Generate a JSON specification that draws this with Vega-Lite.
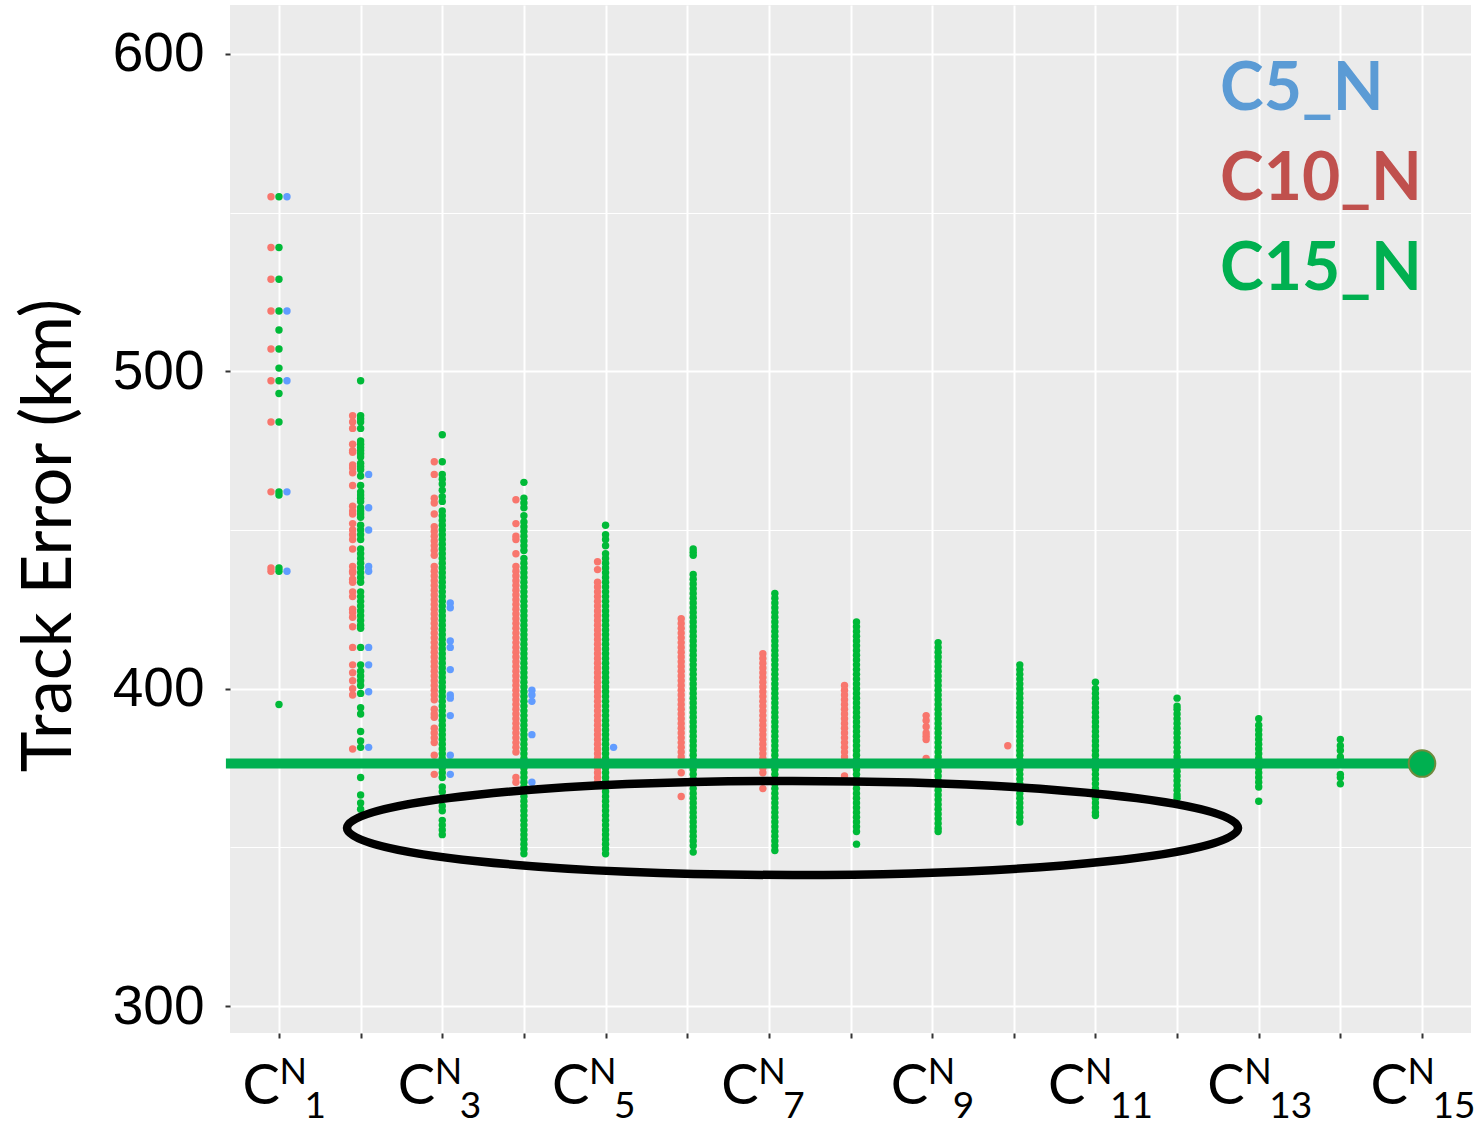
{
  "$schema": "https://vega.github.io/schema/vega-lite/v6.json",
  "width": 1241,
  "height": 1028,
  "autosize": {"type": "none"},
  "padding": {"left": 230, "top": 5, "right": 8, "bottom": 91},
  "background": "white",
  "config": {
    "view": {"fill": "#EBEBEB", "stroke": null},
    "axis": {"domain": false, "labelOverlap": false, "labelFlush": false}
  },
  "datasets": {
    "c10": [
      {"c":1,"v":555},{"c":1,"v":539},{"c":1,"v":529},{"c":1,"v":519},{"c":1,"v":507},{"c":1,"v":497},{"c":1,"v":484},{"c":1,"v":462},{"c":1,"v":438},{"c":1,"v":437},
      {"c":2,"v":486},{"c":2,"v":484},{"c":2,"v":482},{"c":2,"v":477},{"c":2,"v":475},{"c":2,"v":474.5},{"c":2,"v":470.5},{"c":2,"v":469.5},{"c":2,"v":468},{"c":2,"v":464},{"c":2,"v":457.5},{"c":2,"v":456},{"c":2,"v":455},{"c":2,"v":452},{"c":2,"v":450},{"c":2,"v":448.5},{"c":2,"v":447},{"c":2,"v":444},{"c":2,"v":438.5},{"c":2,"v":437},{"c":2,"v":436.5},{"c":2,"v":434.5},{"c":2,"v":433.5},{"c":2,"v":430.5},{"c":2,"v":429},{"c":2,"v":425},{"c":2,"v":424},{"c":2,"v":422.5},{"c":2,"v":419.5},{"c":2,"v":413},{"c":2,"v":407.5},{"c":2,"v":405},{"c":2,"v":402.5},{"c":2,"v":400},{"c":2,"v":398},{"c":2,"v":381},
      {"c":3,"v":471.5},{"c":3,"v":467.5},{"c":3,"v":460},{"c":3,"v":458.5},{"c":3,"v":455},{"c":3,"v":451},{"c":3,"v":449.5},{"c":3,"v":448},{"c":3,"v":446.5},{"c":3,"v":445},{"c":3,"v":443.5},{"c":3,"v":442},{"c":3,"v":438.5},{"c":3,"v":437},{"c":3,"v":435.5},{"c":3,"v":434},{"c":3,"v":432.5},{"c":3,"v":431},{"c":3,"v":429.5},{"c":3,"v":428},{"c":3,"v":426.5},{"c":3,"v":425},{"c":3,"v":423.5},{"c":3,"v":422},{"c":3,"v":420.5},{"c":3,"v":419},{"c":3,"v":417.5},{"c":3,"v":416},{"c":3,"v":414.5},{"c":3,"v":413},{"c":3,"v":411.5},{"c":3,"v":410},{"c":3,"v":408.5},{"c":3,"v":407},{"c":3,"v":405.5},{"c":3,"v":404},{"c":3,"v":402.5},{"c":3,"v":401},{"c":3,"v":399.5},{"c":3,"v":398},{"c":3,"v":396.5},{"c":3,"v":393.5},{"c":3,"v":392},{"c":3,"v":391},{"c":3,"v":387.5},{"c":3,"v":386},{"c":3,"v":384.5},{"c":3,"v":383},{"c":3,"v":379},{"c":3,"v":373},
      {"c":4,"v":459.5},{"c":4,"v":452},{"c":4,"v":448},{"c":4,"v":447},{"c":4,"v":442.5},{"c":4,"v":438.5},{"c":4,"v":437},{"c":4,"v":435.5},{"c":4,"v":434},{"c":4,"v":432.5},{"c":4,"v":431},{"c":4,"v":429.5},{"c":4,"v":428},{"c":4,"v":426.5},{"c":4,"v":425},{"c":4,"v":423.5},{"c":4,"v":422},{"c":4,"v":420.5},{"c":4,"v":419},{"c":4,"v":417.5},{"c":4,"v":416},{"c":4,"v":414.5},{"c":4,"v":413},{"c":4,"v":411.5},{"c":4,"v":410},{"c":4,"v":408.5},{"c":4,"v":407},{"c":4,"v":405.5},{"c":4,"v":404},{"c":4,"v":402.5},{"c":4,"v":401},{"c":4,"v":399.5},{"c":4,"v":398},{"c":4,"v":396.5},{"c":4,"v":395},{"c":4,"v":393.5},{"c":4,"v":392},{"c":4,"v":390.5},{"c":4,"v":389},{"c":4,"v":387.5},{"c":4,"v":386},{"c":4,"v":384.5},{"c":4,"v":383},{"c":4,"v":381.5},{"c":4,"v":380},{"c":4,"v":372},{"c":4,"v":370.5},
      {"c":5,"v":440},{"c":5,"v":437.5},{"c":5,"v":433.5},{"c":5,"v":432},{"c":5,"v":430.5},{"c":5,"v":429},{"c":5,"v":427.5},{"c":5,"v":426},{"c":5,"v":424.5},{"c":5,"v":423},{"c":5,"v":421.5},{"c":5,"v":420},{"c":5,"v":418.5},{"c":5,"v":417},{"c":5,"v":415.5},{"c":5,"v":414},{"c":5,"v":412.5},{"c":5,"v":411},{"c":5,"v":409.5},{"c":5,"v":408},{"c":5,"v":406.5},{"c":5,"v":405},{"c":5,"v":403.5},{"c":5,"v":402},{"c":5,"v":400.5},{"c":5,"v":399},{"c":5,"v":397.5},{"c":5,"v":396},{"c":5,"v":394.5},{"c":5,"v":393},{"c":5,"v":391.5},{"c":5,"v":390},{"c":5,"v":388.5},{"c":5,"v":387},{"c":5,"v":385.5},{"c":5,"v":384},{"c":5,"v":382.5},{"c":5,"v":381},{"c":5,"v":379.5},{"c":5,"v":378},{"c":5,"v":376.5},{"c":5,"v":375},{"c":5,"v":373.5},{"c":5,"v":372},{"c":5,"v":370.5},
      {"c":6,"v":422},{"c":6,"v":420.5},{"c":6,"v":419},{"c":6,"v":417.5},{"c":6,"v":416},{"c":6,"v":414.5},{"c":6,"v":413},{"c":6,"v":411.5},{"c":6,"v":410},{"c":6,"v":408.5},{"c":6,"v":407},{"c":6,"v":405.5},{"c":6,"v":404},{"c":6,"v":402.5},{"c":6,"v":401},{"c":6,"v":399.5},{"c":6,"v":398},{"c":6,"v":396.5},{"c":6,"v":395},{"c":6,"v":393.5},{"c":6,"v":392},{"c":6,"v":390.5},{"c":6,"v":389},{"c":6,"v":387.5},{"c":6,"v":386},{"c":6,"v":384.5},{"c":6,"v":383},{"c":6,"v":381.5},{"c":6,"v":380},{"c":6,"v":378.5},{"c":6,"v":377},{"c":6,"v":373.5},{"c":6,"v":366},
      {"c":7,"v":411},{"c":7,"v":409.5},{"c":7,"v":408},{"c":7,"v":406.5},{"c":7,"v":405},{"c":7,"v":403.5},{"c":7,"v":402},{"c":7,"v":400.5},{"c":7,"v":399},{"c":7,"v":397.5},{"c":7,"v":396},{"c":7,"v":394.5},{"c":7,"v":393},{"c":7,"v":391.5},{"c":7,"v":390},{"c":7,"v":388.5},{"c":7,"v":387},{"c":7,"v":385.5},{"c":7,"v":384},{"c":7,"v":382.5},{"c":7,"v":381},{"c":7,"v":379.5},{"c":7,"v":378},{"c":7,"v":376.5},{"c":7,"v":375},{"c":7,"v":373.5},{"c":7,"v":368.5},
      {"c":8,"v":401},{"c":8,"v":399.5},{"c":8,"v":398},{"c":8,"v":396.5},{"c":8,"v":395},{"c":8,"v":393.5},{"c":8,"v":392},{"c":8,"v":390.5},{"c":8,"v":389},{"c":8,"v":387.5},{"c":8,"v":386},{"c":8,"v":384.5},{"c":8,"v":383},{"c":8,"v":381.5},{"c":8,"v":380},{"c":8,"v":378.5},{"c":8,"v":372.5},
      {"c":9,"v":391.5},{"c":9,"v":390},{"c":9,"v":388},{"c":9,"v":386},{"c":9,"v":385},{"c":9,"v":384},{"c":9,"v":378},
      {"c":10,"v":382}
    ],
    "c15": [
      {"c":1,"v":555},{"c":1,"v":539},{"c":1,"v":529},{"c":1,"v":519},{"c":1,"v":513},{"c":1,"v":507},{"c":1,"v":501},{"c":1,"v":497},{"c":1,"v":493},{"c":1,"v":484},{"c":1,"v":462},{"c":1,"v":461},{"c":1,"v":438},{"c":1,"v":437},{"c":1,"v":395},
      {"c":2,"v":497},{"c":2,"v":486},{"c":2,"v":485},{"c":2,"v":484},{"c":2,"v":482},{"c":2,"v":478},{"c":2,"v":477},{"c":2,"v":476},{"c":2,"v":475},{"c":2,"v":474},{"c":2,"v":473},{"c":2,"v":471},{"c":2,"v":470},{"c":2,"v":469},{"c":2,"v":467},{"c":2,"v":464},{"c":2,"v":462},{"c":2,"v":461},{"c":2,"v":460},{"c":2,"v":459},{"c":2,"v":457},{"c":2,"v":456},{"c":2,"v":455},{"c":2,"v":454},{"c":2,"v":451.5},{"c":2,"v":450},{"c":2,"v":448.5},{"c":2,"v":447},{"c":2,"v":444},{"c":2,"v":442.5},{"c":2,"v":441},{"c":2,"v":439.5},{"c":2,"v":438},{"c":2,"v":436.5},{"c":2,"v":435},{"c":2,"v":433.5},{"c":2,"v":430.5},{"c":2,"v":429},{"c":2,"v":427.5},{"c":2,"v":426},{"c":2,"v":424.5},{"c":2,"v":423},{"c":2,"v":421.5},{"c":2,"v":420},{"c":2,"v":419},{"c":2,"v":413},{"c":2,"v":407.5},{"c":2,"v":405.5},{"c":2,"v":404},{"c":2,"v":402.5},{"c":2,"v":401},{"c":2,"v":398.5},{"c":2,"v":394},{"c":2,"v":392},{"c":2,"v":386.5},{"c":2,"v":383.5},{"c":2,"v":381.5},{"c":2,"v":372},{"c":2,"v":366.5},{"c":2,"v":364},{"c":2,"v":362},
      {"c":3,"v":480},{"c":3,"v":471.5},{"c":3,"v":467.5},{"c":3,"v":466},{"c":3,"v":464.5},{"c":3,"v":462.5},{"c":3,"v":460.5},{"c":3,"v":459},{"c":3,"v":456},{"c":3,"v":454.5},{"c":3,"v":453},{"c":3,"v":451.5},{"c":3,"v":450},{"c":3,"v":448.5},{"c":3,"v":447},{"c":3,"v":445.5},{"c":3,"v":444},{"c":3,"v":442.5},{"c":3,"v":441},{"c":3,"v":439.5},{"c":3,"v":438},{"c":3,"v":436.5},{"c":3,"v":435},{"c":3,"v":433.5},{"c":3,"v":432},{"c":3,"v":430.5},{"c":3,"v":429},{"c":3,"v":427.5},{"c":3,"v":426},{"c":3,"v":424.5},{"c":3,"v":423},{"c":3,"v":421.5},{"c":3,"v":420},{"c":3,"v":418.5},{"c":3,"v":417},{"c":3,"v":415.5},{"c":3,"v":414},{"c":3,"v":412.5},{"c":3,"v":411},{"c":3,"v":409.5},{"c":3,"v":408},{"c":3,"v":406.5},{"c":3,"v":405},{"c":3,"v":403.5},{"c":3,"v":402},{"c":3,"v":400.5},{"c":3,"v":399},{"c":3,"v":397.5},{"c":3,"v":396},{"c":3,"v":394.5},{"c":3,"v":393},{"c":3,"v":391.5},{"c":3,"v":390},{"c":3,"v":388.5},{"c":3,"v":387},{"c":3,"v":385.5},{"c":3,"v":384},{"c":3,"v":382.5},{"c":3,"v":381},{"c":3,"v":379.5},{"c":3,"v":378},{"c":3,"v":376.5},{"c":3,"v":375},{"c":3,"v":373.5},{"c":3,"v":372},{"c":3,"v":369},{"c":3,"v":367.5},{"c":3,"v":363},{"c":3,"v":361.5},{"c":3,"v":358.5},{"c":3,"v":357},{"c":3,"v":355.5},{"c":3,"v":354},
      {"c":4,"v":465},{"c":4,"v":460},{"c":4,"v":458.5},{"c":4,"v":457},{"c":4,"v":454.5},{"c":4,"v":452.5},{"c":4,"v":451},{"c":4,"v":449.5},{"c":4,"v":448},{"c":4,"v":446.5},{"c":4,"v":445},{"c":4,"v":443.5},{"c":4,"v":441},{"c":4,"v":439.5},{"c":4,"v":438},{"c":4,"v":436.5},{"c":4,"v":435},{"c":4,"v":433.5},{"c":4,"v":432},{"c":4,"v":430.5},{"c":4,"v":429},{"c":4,"v":427.5},{"c":4,"v":426},{"c":4,"v":424.5},{"c":4,"v":423},{"c":4,"v":421.5},{"c":4,"v":420},{"c":4,"v":418.5},{"c":4,"v":417},{"c":4,"v":415.5},{"c":4,"v":414},{"c":4,"v":412.5},{"c":4,"v":411},{"c":4,"v":409.5},{"c":4,"v":408},{"c":4,"v":406.5},{"c":4,"v":405},{"c":4,"v":403.5},{"c":4,"v":402},{"c":4,"v":400.5},{"c":4,"v":399},{"c":4,"v":397.5},{"c":4,"v":396},{"c":4,"v":394.5},{"c":4,"v":393},{"c":4,"v":391.5},{"c":4,"v":390},{"c":4,"v":388.5},{"c":4,"v":387},{"c":4,"v":385.5},{"c":4,"v":384},{"c":4,"v":382.5},{"c":4,"v":381},{"c":4,"v":379.5},{"c":4,"v":378},{"c":4,"v":376.5},{"c":4,"v":375},{"c":4,"v":373.5},{"c":4,"v":372},{"c":4,"v":370.5},{"c":4,"v":369},{"c":4,"v":367.5},{"c":4,"v":366},{"c":4,"v":364.5},{"c":4,"v":363},{"c":4,"v":361.5},{"c":4,"v":360},{"c":4,"v":358.5},{"c":4,"v":357},{"c":4,"v":355.5},{"c":4,"v":354},{"c":4,"v":352.5},{"c":4,"v":351},{"c":4,"v":349.5},{"c":4,"v":348},
      {"c":5,"v":451.5},{"c":5,"v":448.5},{"c":5,"v":447},{"c":5,"v":445},{"c":5,"v":442.5},{"c":5,"v":441},{"c":5,"v":439.5},{"c":5,"v":438},{"c":5,"v":436.5},{"c":5,"v":435},{"c":5,"v":433.5},{"c":5,"v":432},{"c":5,"v":430.5},{"c":5,"v":429},{"c":5,"v":427.5},{"c":5,"v":426},{"c":5,"v":424.5},{"c":5,"v":423},{"c":5,"v":421.5},{"c":5,"v":420},{"c":5,"v":418.5},{"c":5,"v":417},{"c":5,"v":415.5},{"c":5,"v":414},{"c":5,"v":412.5},{"c":5,"v":411},{"c":5,"v":409.5},{"c":5,"v":408},{"c":5,"v":406.5},{"c":5,"v":405},{"c":5,"v":403.5},{"c":5,"v":402},{"c":5,"v":400.5},{"c":5,"v":399},{"c":5,"v":397.5},{"c":5,"v":396},{"c":5,"v":394.5},{"c":5,"v":393},{"c":5,"v":391.5},{"c":5,"v":390},{"c":5,"v":388.5},{"c":5,"v":387},{"c":5,"v":385.5},{"c":5,"v":384},{"c":5,"v":382.5},{"c":5,"v":381},{"c":5,"v":379.5},{"c":5,"v":378},{"c":5,"v":376.5},{"c":5,"v":375},{"c":5,"v":373.5},{"c":5,"v":372},{"c":5,"v":370.5},{"c":5,"v":369},{"c":5,"v":367.5},{"c":5,"v":366},{"c":5,"v":364.5},{"c":5,"v":363},{"c":5,"v":361.5},{"c":5,"v":360},{"c":5,"v":358.5},{"c":5,"v":357},{"c":5,"v":355.5},{"c":5,"v":354},{"c":5,"v":352.5},{"c":5,"v":351},{"c":5,"v":349.5},{"c":5,"v":348},
      {"c":6,"v":444},{"c":6,"v":443},{"c":6,"v":442},{"c":6,"v":436},{"c":6,"v":434.5},{"c":6,"v":433},{"c":6,"v":431.5},{"c":6,"v":430},{"c":6,"v":428.5},{"c":6,"v":427},{"c":6,"v":425.5},{"c":6,"v":424},{"c":6,"v":422.5},{"c":6,"v":421},{"c":6,"v":419.5},{"c":6,"v":418},{"c":6,"v":416.5},{"c":6,"v":415},{"c":6,"v":413.5},{"c":6,"v":412},{"c":6,"v":410.5},{"c":6,"v":409},{"c":6,"v":407.5},{"c":6,"v":406},{"c":6,"v":404.5},{"c":6,"v":403},{"c":6,"v":401.5},{"c":6,"v":400},{"c":6,"v":398.5},{"c":6,"v":397},{"c":6,"v":395.5},{"c":6,"v":394},{"c":6,"v":392.5},{"c":6,"v":391},{"c":6,"v":389.5},{"c":6,"v":388},{"c":6,"v":386.5},{"c":6,"v":385},{"c":6,"v":383.5},{"c":6,"v":382},{"c":6,"v":380.5},{"c":6,"v":379},{"c":6,"v":377.5},{"c":6,"v":376},{"c":6,"v":374.5},{"c":6,"v":373},{"c":6,"v":371.5},{"c":6,"v":370},{"c":6,"v":368.5},{"c":6,"v":367},{"c":6,"v":365.5},{"c":6,"v":364},{"c":6,"v":362.5},{"c":6,"v":361},{"c":6,"v":359.5},{"c":6,"v":358},{"c":6,"v":356.5},{"c":6,"v":355},{"c":6,"v":353.5},{"c":6,"v":352},{"c":6,"v":350.5},{"c":6,"v":348.5},
      {"c":7,"v":430},{"c":7,"v":428.5},{"c":7,"v":427},{"c":7,"v":425.5},{"c":7,"v":424},{"c":7,"v":422.5},{"c":7,"v":421},{"c":7,"v":419.5},{"c":7,"v":418},{"c":7,"v":416.5},{"c":7,"v":415},{"c":7,"v":413.5},{"c":7,"v":412},{"c":7,"v":410.5},{"c":7,"v":409},{"c":7,"v":407.5},{"c":7,"v":406},{"c":7,"v":404.5},{"c":7,"v":403},{"c":7,"v":401.5},{"c":7,"v":400},{"c":7,"v":398.5},{"c":7,"v":397},{"c":7,"v":395.5},{"c":7,"v":394},{"c":7,"v":392.5},{"c":7,"v":391},{"c":7,"v":389.5},{"c":7,"v":388},{"c":7,"v":386.5},{"c":7,"v":385},{"c":7,"v":383.5},{"c":7,"v":382},{"c":7,"v":380.5},{"c":7,"v":379},{"c":7,"v":377.5},{"c":7,"v":376},{"c":7,"v":374.5},{"c":7,"v":373},{"c":7,"v":371.5},{"c":7,"v":370},{"c":7,"v":368.5},{"c":7,"v":367},{"c":7,"v":365.5},{"c":7,"v":364},{"c":7,"v":362.5},{"c":7,"v":361},{"c":7,"v":359.5},{"c":7,"v":358},{"c":7,"v":356.5},{"c":7,"v":355},{"c":7,"v":353.5},{"c":7,"v":352},{"c":7,"v":350.5},{"c":7,"v":349},
      {"c":8,"v":421},{"c":8,"v":419.5},{"c":8,"v":418},{"c":8,"v":416.5},{"c":8,"v":415},{"c":8,"v":413.5},{"c":8,"v":412},{"c":8,"v":410.5},{"c":8,"v":409},{"c":8,"v":407.5},{"c":8,"v":406},{"c":8,"v":404.5},{"c":8,"v":403},{"c":8,"v":401.5},{"c":8,"v":400},{"c":8,"v":398.5},{"c":8,"v":397},{"c":8,"v":395.5},{"c":8,"v":394},{"c":8,"v":392.5},{"c":8,"v":391},{"c":8,"v":389.5},{"c":8,"v":388},{"c":8,"v":386.5},{"c":8,"v":385},{"c":8,"v":383.5},{"c":8,"v":382},{"c":8,"v":380.5},{"c":8,"v":379},{"c":8,"v":377.5},{"c":8,"v":376},{"c":8,"v":374.5},{"c":8,"v":373},{"c":8,"v":371.5},{"c":8,"v":370},{"c":8,"v":368.5},{"c":8,"v":367},{"c":8,"v":365.5},{"c":8,"v":364},{"c":8,"v":362.5},{"c":8,"v":361},{"c":8,"v":359.5},{"c":8,"v":358},{"c":8,"v":356.5},{"c":8,"v":355},{"c":8,"v":351},
      {"c":9,"v":414.5},{"c":9,"v":413},{"c":9,"v":411.5},{"c":9,"v":410},{"c":9,"v":408.5},{"c":9,"v":407},{"c":9,"v":405.5},{"c":9,"v":404},{"c":9,"v":402.5},{"c":9,"v":401},{"c":9,"v":399.5},{"c":9,"v":398},{"c":9,"v":396.5},{"c":9,"v":395},{"c":9,"v":393.5},{"c":9,"v":392},{"c":9,"v":390.5},{"c":9,"v":389},{"c":9,"v":387.5},{"c":9,"v":386},{"c":9,"v":384.5},{"c":9,"v":383},{"c":9,"v":381.5},{"c":9,"v":380},{"c":9,"v":378.5},{"c":9,"v":377},{"c":9,"v":375.5},{"c":9,"v":374},{"c":9,"v":372.5},{"c":9,"v":371},{"c":9,"v":369.5},{"c":9,"v":368},{"c":9,"v":366.5},{"c":9,"v":365},{"c":9,"v":363.5},{"c":9,"v":362},{"c":9,"v":360.5},{"c":9,"v":359},{"c":9,"v":357.5},{"c":9,"v":356},{"c":9,"v":355},
      {"c":10,"v":407.5},{"c":10,"v":406},{"c":10,"v":404.5},{"c":10,"v":403},{"c":10,"v":401.5},{"c":10,"v":400},{"c":10,"v":398.5},{"c":10,"v":397},{"c":10,"v":395.5},{"c":10,"v":394},{"c":10,"v":392.5},{"c":10,"v":391},{"c":10,"v":389.5},{"c":10,"v":388},{"c":10,"v":386.5},{"c":10,"v":385},{"c":10,"v":383.5},{"c":10,"v":382},{"c":10,"v":380.5},{"c":10,"v":379},{"c":10,"v":377.5},{"c":10,"v":376},{"c":10,"v":374.5},{"c":10,"v":373},{"c":10,"v":371.5},{"c":10,"v":370},{"c":10,"v":368.5},{"c":10,"v":367},{"c":10,"v":365.5},{"c":10,"v":364},{"c":10,"v":362.5},{"c":10,"v":361},{"c":10,"v":359.5},{"c":10,"v":358},
      {"c":11,"v":402},{"c":11,"v":400},{"c":11,"v":398.5},{"c":11,"v":397},{"c":11,"v":395.5},{"c":11,"v":394},{"c":11,"v":392.5},{"c":11,"v":391},{"c":11,"v":389.5},{"c":11,"v":388},{"c":11,"v":386.5},{"c":11,"v":385},{"c":11,"v":383.5},{"c":11,"v":382},{"c":11,"v":380.5},{"c":11,"v":379},{"c":11,"v":377.5},{"c":11,"v":376},{"c":11,"v":374.5},{"c":11,"v":373},{"c":11,"v":371.5},{"c":11,"v":370},{"c":11,"v":368.5},{"c":11,"v":367},{"c":11,"v":365.5},{"c":11,"v":364},{"c":11,"v":362.5},{"c":11,"v":361},{"c":11,"v":360},
      {"c":12,"v":397},{"c":12,"v":394.5},{"c":12,"v":393.5},{"c":12,"v":392},{"c":12,"v":390.5},{"c":12,"v":389},{"c":12,"v":387.5},{"c":12,"v":386},{"c":12,"v":384.5},{"c":12,"v":383},{"c":12,"v":381.5},{"c":12,"v":380},{"c":12,"v":378.5},{"c":12,"v":377},{"c":12,"v":375.5},{"c":12,"v":374},{"c":12,"v":372.5},{"c":12,"v":371},{"c":12,"v":369.5},{"c":12,"v":368},{"c":12,"v":366.5},{"c":12,"v":365.5},
      {"c":13,"v":390.5},{"c":13,"v":388.5},{"c":13,"v":387},{"c":13,"v":385.5},{"c":13,"v":384},{"c":13,"v":382.5},{"c":13,"v":381},{"c":13,"v":379.5},{"c":13,"v":378},{"c":13,"v":376.5},{"c":13,"v":375},{"c":13,"v":373.5},{"c":13,"v":372},{"c":13,"v":370.5},{"c":13,"v":369},{"c":13,"v":364.5},
      {"c":14,"v":384},{"c":14,"v":382},{"c":14,"v":380.5},{"c":14,"v":378.5},{"c":14,"v":377.5},{"c":14,"v":373},{"c":14,"v":372},{"c":14,"v":370}
    ],
    "c5": [
      {"c":1,"v":555},{"c":1,"v":519},{"c":1,"v":497},{"c":1,"v":462},{"c":1,"v":437},
      {"c":2,"v":467.5},{"c":2,"v":457},{"c":2,"v":450},{"c":2,"v":438.5},{"c":2,"v":437},{"c":2,"v":413},{"c":2,"v":407.5},{"c":2,"v":399},{"c":2,"v":381.5},
      {"c":3,"v":427},{"c":3,"v":425.5},{"c":3,"v":415},{"c":3,"v":413},{"c":3,"v":406},{"c":3,"v":398},{"c":3,"v":397},{"c":3,"v":391.5},{"c":3,"v":379},{"c":3,"v":373},
      {"c":4,"v":399.5},{"c":4,"v":398},{"c":4,"v":396},{"c":4,"v":385.5},{"c":4,"v":370.5},
      {"c":5,"v":381.5}
    ]
  },
  "resolve": {"axis": {"x": "independent"}},
  "layer": [
    {
      "data": {"name": "c10"},
      "transform": [{"filter": "datum.c <= 5"}],
      "mark": {"type": "point", "filled": true, "size": 55, "opacity": 1, "xOffset": -8},
      "encoding": {
        "x": {
          "field": "c", "type": "quantitative",
          "scale": {"domain": [0.4, 15.6], "nice": false, "zero": false},
          "axis": {
            "orient": "bottom", "title": null,
            "values": [1, 2, 3, 4, 5, 6, 7, 8, 9, 10, 11, 12, 13, 14, 15],
            "labelExpr": "datum.value % 2 === 1 ? 'C' : ''",
            "labelAlign": "left", "labelBaseline": "alphabetic",
            "labelFont": "Lato", "labelFontSize": 56, "labelColor": "black",
            "labelPadding": 65,
            "labelOffset": {
              "condition": [
                {"test": "datum.value === 1", "value": -37},
                {"test": "datum.value === 3", "value": -45},
                {"test": "datum.value === 5", "value": -54},
                {"test": "datum.value === 7", "value": -48},
                {"test": "datum.value === 9", "value": -42},
                {"test": "datum.value === 11", "value": -48}
              ],
              "value": -52
            },
            "ticks": true, "tickSize": 5, "tickColor": "#333333", "tickWidth": 2,
            "grid": true, "gridColor": "white", "gridWidth": 2
          }
        },
        "y": {
          "field": "v", "type": "quantitative",
          "scale": {"domain": [291.5, 615.4], "nice": false, "zero": false},
          "axis": {
            "title": "Track Error (km)",
            "values": [300, 350, 400, 450, 500, 550, 600],
            "labelExpr": "datum.value % 100 === 0 ? datum.label : ''",
            "labelFont": "Liberation Sans", "labelFontSize": 55, "labelColor": "black",
            "labelPadding": 21,
            "tickSize": 5, "tickColor": "#333333", "tickWidth": 2,
            "tickOpacity": {"condition": {"test": "datum.value % 100 === 0", "value": 1}, "value": 0},
            "grid": true, "gridColor": "white",
            "gridWidth": {"condition": {"test": "datum.value % 100 === 0", "value": 2.2}, "value": 1.1},
            "titleFont": "Lato", "titleFontSize": 69, "titleFontWeight": "normal", "titleColor": "black",
            "titleAngle": -90, "titleAlign": "center", "titleBaseline": "alphabetic",
            "titleX": -160, "titleY": 530
          }
        },
        "color": {
          "datum": "C10_N", "type": "nominal",
          "scale": {"domain": ["C5_N", "C10_N", "C15_N"], "range": ["#619CFF", "#F8766D", "#00BA38"]},
          "legend": {
            "title": null, "orient": "none", "legendX": 924, "legendY": 52,
            "padding": 0, "symbolSize": 0, "symbolOpacity": 0, "symbolStrokeWidth": 0,
            "labelOffset": 0, "labelFont": "Lato", "labelFontWeight": "bold", "labelFontSize": 66,
            "labelLimit": 0, "rowPadding": 24,
            "encode": {
              "labels": {
                "update": {
                  "fill": {"signal": "datum.value === 'C5_N' ? '#5B9BD5' : datum.value === 'C10_N' ? '#C0504D' : '#00B050'"}
                }
              }
            }
          }
        }
      }
    },
    {
      "data": {"name": "c10"},
      "transform": [{"filter": "datum.c >= 6"}],
      "mark": {"type": "point", "filled": true, "size": 55, "opacity": 1, "xOffset": -6},
      "encoding": {
        "x": {
          "field": "c", "type": "quantitative",
          "scale": {"domain": [0.4, 15.6], "nice": false, "zero": false},
          "axis": {
            "orient": "bottom", "title": null,
            "values": [1, 3, 5, 7, 9, 11, 13, 15],
            "labelExpr": "'N'",
            "labelAlign": "left", "labelBaseline": "alphabetic",
            "labelFont": "Lato", "labelFontSize": 36, "labelColor": "black",
            "labelPadding": 50,
            "labelOffset": {
              "condition": [
                {"test": "datum.value === 1", "value": 0},
                {"test": "datum.value === 3", "value": -8},
                {"test": "datum.value === 5", "value": -17},
                {"test": "datum.value === 7", "value": -11},
                {"test": "datum.value === 9", "value": -5},
                {"test": "datum.value === 11", "value": -11}
              ],
              "value": -15
            },
            "ticks": false, "tickSize": 0, "grid": false
          }
        },
        "y": {"field": "v", "type": "quantitative", "scale": {"domain": [291.5, 615.4], "nice": false, "zero": false}},
        "color": {"datum": "C10_N", "type": "nominal"}
      }
    },
    {
      "data": {"name": "c15"},
      "transform": [{"filter": "datum.c <= 5 || datum.c >= 11"}],
      "mark": {"type": "point", "filled": true, "size": 55, "opacity": 1},
      "encoding": {
        "x": {
          "field": "c", "type": "quantitative",
          "scale": {"domain": [0.4, 15.6], "nice": false, "zero": false},
          "axis": {
            "orient": "bottom", "title": null,
            "values": [1, 3, 5, 7, 9, 11, 13, 15],
            "format": "d",
            "labelAlign": "left", "labelBaseline": "alphabetic",
            "labelFont": "Lato", "labelFontSize": 37, "labelColor": "black",
            "labelPadding": 84,
            "labelOffset": {
              "condition": [
                {"test": "datum.value === 1", "value": 25},
                {"test": "datum.value === 3", "value": 17},
                {"test": "datum.value === 5", "value": 8},
                {"test": "datum.value === 7", "value": 14},
                {"test": "datum.value === 9", "value": 20},
                {"test": "datum.value === 11", "value": 14}
              ],
              "value": 10
            },
            "ticks": false, "tickSize": 0, "grid": false
          }
        },
        "y": {"field": "v", "type": "quantitative", "scale": {"domain": [291.5, 615.4], "nice": false, "zero": false}},
        "color": {"datum": "C15_N", "type": "nominal"}
      }
    },
    {
      "data": {"name": "c15"},
      "transform": [{"filter": "datum.c >= 6 && datum.c <= 10"}],
      "mark": {"type": "point", "filled": true, "size": 55, "opacity": 1, "xOffset": 6},
      "encoding": {
        "x": {"field": "c", "type": "quantitative", "scale": {"domain": [0.4, 15.6], "nice": false, "zero": false}, "axis": null},
        "y": {"field": "v", "type": "quantitative", "scale": {"domain": [291.5, 615.4], "nice": false, "zero": false}},
        "color": {"datum": "C15_N", "type": "nominal"}
      }
    },
    {
      "data": {"name": "c5"},
      "mark": {"type": "point", "filled": true, "size": 55, "opacity": 1, "xOffset": 8},
      "encoding": {
        "x": {"field": "c", "type": "quantitative", "scale": {"domain": [0.4, 15.6], "nice": false, "zero": false}, "axis": null},
        "y": {"field": "v", "type": "quantitative", "scale": {"domain": [291.5, 615.4], "nice": false, "zero": false}},
        "color": {"datum": "C5_N", "type": "nominal"}
      }
    },
    {
      "data": {"values": [{}]},
      "mark": {"type": "rule", "color": "#00B050", "strokeWidth": 10},
      "encoding": {
        "x": {"datum": 0.35, "type": "quantitative", "scale": {"domain": [0.4, 15.6], "nice": false, "zero": false}, "axis": null},
        "x2": {"datum": 15},
        "y": {"datum": 376.4, "type": "quantitative", "scale": {"domain": [291.5, 615.4], "nice": false, "zero": false}}
      }
    },
    {
      "data": {"values": [{}]},
      "mark": {"type": "point", "filled": true, "size": 707, "opacity": 1, "fill": "#00B050", "stroke": "#6E8B3D", "strokeWidth": 2},
      "encoding": {
        "x": {"datum": 15, "type": "quantitative", "scale": {"domain": [0.4, 15.6], "nice": false, "zero": false}, "axis": null},
        "y": {"datum": 376.4, "type": "quantitative", "scale": {"domain": [291.5, 615.4], "nice": false, "zero": false}}
      }
    },
    {
      "data": {"values": [{}]},
      "mark": {
        "type": "point", "filled": false, "opacity": 1, "stroke": "black", "strokeWidth": 8.5, "size": 793881,
        "shape": "M-1,0 C-1,-0.0583 -0.5523,-0.1055 0,-0.1055 C0.5523,-0.1055 1,-0.0583 1,0 C1,0.0583 0.5523,0.1055 0,0.1055 C-0.5523,0.1055 -1,0.0583 -1,0 Z"
      },
      "encoding": {
        "x": {"datum": 7.29, "type": "quantitative", "scale": {"domain": [0.4, 15.6], "nice": false, "zero": false}, "axis": null},
        "y": {"datum": 356.1, "type": "quantitative", "scale": {"domain": [291.5, 615.4], "nice": false, "zero": false}}
      }
    }
  ]
}
